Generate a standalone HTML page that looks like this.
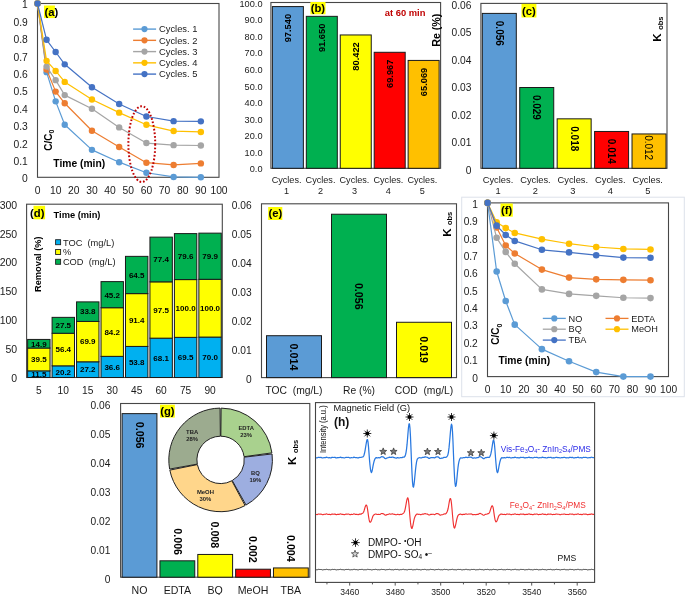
<!DOCTYPE html>
<html><head><meta charset="utf-8"><style>
html,body{margin:0;padding:0;background:#fff;}
svg{display:block;font-family:"Liberation Sans", sans-serif;}
</style></head><body>
<div style="will-change:transform;width:685px;height:595px;overflow:hidden"><svg width="685" height="595" viewBox="0 0 685 595">
<rect x="0" y="0" width="685" height="595" fill="#fff"/>
<rect x="37.50" y="3.50" width="181.50" height="173.80" fill="#fff" stroke="#474747" stroke-width="1.1"/>
<text x="27.80" y="182.26" font-size="10.3" text-anchor="end" fill="#1a1a1a">0</text>
<text x="27.80" y="164.88" font-size="10.3" text-anchor="end" fill="#1a1a1a">0.1</text>
<text x="27.80" y="147.50" font-size="10.3" text-anchor="end" fill="#1a1a1a">0.2</text>
<text x="27.80" y="130.12" font-size="10.3" text-anchor="end" fill="#1a1a1a">0.3</text>
<text x="27.80" y="112.74" font-size="10.3" text-anchor="end" fill="#1a1a1a">0.4</text>
<text x="27.80" y="95.36" font-size="10.3" text-anchor="end" fill="#1a1a1a">0.5</text>
<text x="27.80" y="77.98" font-size="10.3" text-anchor="end" fill="#1a1a1a">0.6</text>
<text x="27.80" y="60.60" font-size="10.3" text-anchor="end" fill="#1a1a1a">0.7</text>
<text x="27.80" y="43.22" font-size="10.3" text-anchor="end" fill="#1a1a1a">0.8</text>
<text x="27.80" y="25.84" font-size="10.3" text-anchor="end" fill="#1a1a1a">0.9</text>
<text x="27.80" y="8.46" font-size="10.3" text-anchor="end" fill="#1a1a1a">1</text>
<text x="37.50" y="193.66" font-size="10.3" text-anchor="middle" fill="#1a1a1a">0</text>
<text x="55.65" y="193.66" font-size="10.3" text-anchor="middle" fill="#1a1a1a">10</text>
<text x="73.80" y="193.66" font-size="10.3" text-anchor="middle" fill="#1a1a1a">20</text>
<text x="91.95" y="193.66" font-size="10.3" text-anchor="middle" fill="#1a1a1a">30</text>
<text x="110.10" y="193.66" font-size="10.3" text-anchor="middle" fill="#1a1a1a">40</text>
<text x="128.25" y="193.66" font-size="10.3" text-anchor="middle" fill="#1a1a1a">50</text>
<text x="146.40" y="193.66" font-size="10.3" text-anchor="middle" fill="#1a1a1a">60</text>
<text x="164.55" y="193.66" font-size="10.3" text-anchor="middle" fill="#1a1a1a">70</text>
<text x="182.70" y="193.66" font-size="10.3" text-anchor="middle" fill="#1a1a1a">80</text>
<text x="200.85" y="193.66" font-size="10.3" text-anchor="middle" fill="#1a1a1a">90</text>
<text x="219.00" y="193.66" font-size="10.3" text-anchor="middle" fill="#1a1a1a">100</text>
<polyline points="37.50,3.50 46.58,72.15 55.65,101.35 64.72,124.81 91.95,149.84 119.17,162.18 146.40,172.78 173.62,176.95 200.85,177.30" fill="none" stroke="#5B9BD5" stroke-width="1.2" stroke-linejoin="round"/>
<circle cx="37.50" cy="3.50" r="3.2" fill="#5B9BD5"/>
<circle cx="46.58" cy="72.15" r="3.2" fill="#5B9BD5"/>
<circle cx="55.65" cy="101.35" r="3.2" fill="#5B9BD5"/>
<circle cx="64.72" cy="124.81" r="3.2" fill="#5B9BD5"/>
<circle cx="91.95" cy="149.84" r="3.2" fill="#5B9BD5"/>
<circle cx="119.17" cy="162.18" r="3.2" fill="#5B9BD5"/>
<circle cx="146.40" cy="172.78" r="3.2" fill="#5B9BD5"/>
<circle cx="173.62" cy="176.95" r="3.2" fill="#5B9BD5"/>
<circle cx="200.85" cy="177.30" r="3.2" fill="#5B9BD5"/>
<polyline points="37.50,3.50 46.58,69.54 55.65,91.62 64.72,103.26 91.95,130.72 119.17,147.06 146.40,162.70 173.62,164.96 200.85,163.40" fill="none" stroke="#ED7D31" stroke-width="1.2" stroke-linejoin="round"/>
<circle cx="37.50" cy="3.50" r="3.2" fill="#ED7D31"/>
<circle cx="46.58" cy="69.54" r="3.2" fill="#ED7D31"/>
<circle cx="55.65" cy="91.62" r="3.2" fill="#ED7D31"/>
<circle cx="64.72" cy="103.26" r="3.2" fill="#ED7D31"/>
<circle cx="91.95" cy="130.72" r="3.2" fill="#ED7D31"/>
<circle cx="119.17" cy="147.06" r="3.2" fill="#ED7D31"/>
<circle cx="146.40" cy="162.70" r="3.2" fill="#ED7D31"/>
<circle cx="173.62" cy="164.96" r="3.2" fill="#ED7D31"/>
<circle cx="200.85" cy="163.40" r="3.2" fill="#ED7D31"/>
<polyline points="37.50,3.50 46.58,66.59 55.65,80.15 64.72,95.09 91.95,108.82 119.17,127.42 146.40,143.06 173.62,145.15 200.85,145.49" fill="none" stroke="#A5A5A5" stroke-width="1.2" stroke-linejoin="round"/>
<circle cx="37.50" cy="3.50" r="3.2" fill="#A5A5A5"/>
<circle cx="46.58" cy="66.59" r="3.2" fill="#A5A5A5"/>
<circle cx="55.65" cy="80.15" r="3.2" fill="#A5A5A5"/>
<circle cx="64.72" cy="95.09" r="3.2" fill="#A5A5A5"/>
<circle cx="91.95" cy="108.82" r="3.2" fill="#A5A5A5"/>
<circle cx="119.17" cy="127.42" r="3.2" fill="#A5A5A5"/>
<circle cx="146.40" cy="143.06" r="3.2" fill="#A5A5A5"/>
<circle cx="173.62" cy="145.15" r="3.2" fill="#A5A5A5"/>
<circle cx="200.85" cy="145.49" r="3.2" fill="#A5A5A5"/>
<polyline points="37.50,3.50 46.58,60.85 55.65,70.93 64.72,81.88 91.95,99.44 119.17,112.65 146.40,124.81 173.62,131.07 200.85,131.94" fill="none" stroke="#FFC000" stroke-width="1.2" stroke-linejoin="round"/>
<circle cx="37.50" cy="3.50" r="3.2" fill="#FFC000"/>
<circle cx="46.58" cy="60.85" r="3.2" fill="#FFC000"/>
<circle cx="55.65" cy="70.93" r="3.2" fill="#FFC000"/>
<circle cx="64.72" cy="81.88" r="3.2" fill="#FFC000"/>
<circle cx="91.95" cy="99.44" r="3.2" fill="#FFC000"/>
<circle cx="119.17" cy="112.65" r="3.2" fill="#FFC000"/>
<circle cx="146.40" cy="124.81" r="3.2" fill="#FFC000"/>
<circle cx="173.62" cy="131.07" r="3.2" fill="#FFC000"/>
<circle cx="200.85" cy="131.94" r="3.2" fill="#FFC000"/>
<polyline points="37.50,3.50 46.58,39.82 55.65,51.99 64.72,64.33 91.95,87.27 119.17,103.96 146.40,116.47 173.62,121.16 200.85,121.34" fill="none" stroke="#4472C4" stroke-width="1.2" stroke-linejoin="round"/>
<circle cx="37.50" cy="3.50" r="3.2" fill="#4472C4"/>
<circle cx="46.58" cy="39.82" r="3.2" fill="#4472C4"/>
<circle cx="55.65" cy="51.99" r="3.2" fill="#4472C4"/>
<circle cx="64.72" cy="64.33" r="3.2" fill="#4472C4"/>
<circle cx="91.95" cy="87.27" r="3.2" fill="#4472C4"/>
<circle cx="119.17" cy="103.96" r="3.2" fill="#4472C4"/>
<circle cx="146.40" cy="116.47" r="3.2" fill="#4472C4"/>
<circle cx="173.62" cy="121.16" r="3.2" fill="#4472C4"/>
<circle cx="200.85" cy="121.34" r="3.2" fill="#4472C4"/>
<line x1="133.10" y1="29.10" x2="156.10" y2="29.10" stroke="#5B9BD5" stroke-width="1.4"/>
<circle cx="144.5" cy="29.10" r="3.1" fill="#5B9BD5"/>
<text x="159.00" y="32.42" font-size="9.35" text-anchor="start" fill="#1a1a1a">Cycles. 1</text>
<line x1="133.10" y1="40.35" x2="156.10" y2="40.35" stroke="#ED7D31" stroke-width="1.4"/>
<circle cx="144.5" cy="40.35" r="3.1" fill="#ED7D31"/>
<text x="159.00" y="43.67" font-size="9.35" text-anchor="start" fill="#1a1a1a">Cycles. 2</text>
<line x1="133.10" y1="51.60" x2="156.10" y2="51.60" stroke="#A5A5A5" stroke-width="1.4"/>
<circle cx="144.5" cy="51.60" r="3.1" fill="#A5A5A5"/>
<text x="159.00" y="54.92" font-size="9.35" text-anchor="start" fill="#1a1a1a">Cycles. 3</text>
<line x1="133.10" y1="62.85" x2="156.10" y2="62.85" stroke="#FFC000" stroke-width="1.4"/>
<circle cx="144.5" cy="62.85" r="3.1" fill="#FFC000"/>
<text x="159.00" y="66.17" font-size="9.35" text-anchor="start" fill="#1a1a1a">Cycles. 4</text>
<line x1="133.10" y1="74.10" x2="156.10" y2="74.10" stroke="#4472C4" stroke-width="1.4"/>
<circle cx="144.5" cy="74.10" r="3.1" fill="#4472C4"/>
<text x="159.00" y="77.42" font-size="9.35" text-anchor="start" fill="#1a1a1a">Cycles. 5</text>
<rect x="44.00" y="5.50" width="10.90" height="12.60" fill="#FFFF00" stroke="none" stroke-width="1"/>
<text x="44.50" y="16.01" font-size="11.3" text-anchor="start" fill="#000" font-weight="bold">(a)</text>
<text transform="translate(48.4,140.2) rotate(-90)" x="0" y="3.5" font-size="10" font-weight="bold" text-anchor="middle" fill="#000">C/C<tspan font-size="7" dy="2.5">0</tspan></text>
<text x="53.30" y="166.76" font-size="10.3" text-anchor="start" fill="#000" font-weight="bold">Time (min)</text>
<ellipse cx="141.8" cy="144.1" rx="13.4" ry="37.9" fill="none" stroke="#C00000" stroke-width="2" stroke-dasharray="1.7 1.9"/>
<rect x="270.90" y="2.50" width="169.70" height="165.80" fill="#fff" stroke="#474747" stroke-width="1.1"/>
<text x="262.50" y="172.47" font-size="9.2" text-anchor="end" fill="#1a1a1a">0.0</text>
<text x="262.50" y="155.89" font-size="9.2" text-anchor="end" fill="#1a1a1a">10.0</text>
<text x="262.50" y="139.31" font-size="9.2" text-anchor="end" fill="#1a1a1a">20.0</text>
<text x="262.50" y="122.73" font-size="9.2" text-anchor="end" fill="#1a1a1a">30.0</text>
<text x="262.50" y="106.15" font-size="9.2" text-anchor="end" fill="#1a1a1a">40.0</text>
<text x="262.50" y="89.57" font-size="9.2" text-anchor="end" fill="#1a1a1a">50.0</text>
<text x="262.50" y="72.99" font-size="9.2" text-anchor="end" fill="#1a1a1a">60.0</text>
<text x="262.50" y="56.41" font-size="9.2" text-anchor="end" fill="#1a1a1a">70.0</text>
<text x="262.50" y="39.83" font-size="9.2" text-anchor="end" fill="#1a1a1a">80.0</text>
<text x="262.50" y="23.25" font-size="9.2" text-anchor="end" fill="#1a1a1a">90.0</text>
<text x="262.50" y="6.67" font-size="9.2" text-anchor="end" fill="#1a1a1a">100.0</text>
<rect x="272.37" y="6.58" width="31.00" height="161.72" fill="#5B9BD5" stroke="#1a1a1a" stroke-width="1"/>
<text transform="translate(288.07,13.88) rotate(-90)" x="0" y="3.30" font-size="9.3" font-weight="bold" text-anchor="end" fill="#000">97.540</text>
<text x="286.57" y="182.93" font-size="9.1" text-anchor="middle" fill="#1a1a1a">Cycles.</text>
<text x="286.57" y="194.03" font-size="9.1" text-anchor="middle" fill="#1a1a1a">1</text>
<rect x="306.31" y="16.34" width="31.00" height="151.96" fill="#00B050" stroke="#1a1a1a" stroke-width="1"/>
<text transform="translate(322.01,23.64) rotate(-90)" x="0" y="3.30" font-size="9.3" font-weight="bold" text-anchor="end" fill="#000">91.650</text>
<text x="320.51" y="182.93" font-size="9.1" text-anchor="middle" fill="#1a1a1a">Cycles.</text>
<text x="320.51" y="194.03" font-size="9.1" text-anchor="middle" fill="#1a1a1a">2</text>
<rect x="340.25" y="34.96" width="31.00" height="133.34" fill="#FFFF00" stroke="#1a1a1a" stroke-width="1"/>
<text transform="translate(355.95,42.26) rotate(-90)" x="0" y="3.30" font-size="9.3" font-weight="bold" text-anchor="end" fill="#000">80.422</text>
<text x="354.45" y="182.93" font-size="9.1" text-anchor="middle" fill="#1a1a1a">Cycles.</text>
<text x="354.45" y="194.03" font-size="9.1" text-anchor="middle" fill="#1a1a1a">3</text>
<rect x="374.19" y="52.29" width="31.00" height="116.01" fill="#FF0000" stroke="#1a1a1a" stroke-width="1"/>
<text transform="translate(389.89,59.59) rotate(-90)" x="0" y="3.30" font-size="9.3" font-weight="bold" text-anchor="end" fill="#000">69.967</text>
<text x="388.39" y="182.93" font-size="9.1" text-anchor="middle" fill="#1a1a1a">Cycles.</text>
<text x="388.39" y="194.03" font-size="9.1" text-anchor="middle" fill="#1a1a1a">4</text>
<rect x="408.13" y="60.42" width="31.00" height="107.88" fill="#FFC000" stroke="#1a1a1a" stroke-width="1"/>
<text transform="translate(423.83,67.72) rotate(-90)" x="0" y="3.30" font-size="9.3" font-weight="bold" text-anchor="end" fill="#000">65.069</text>
<text x="422.33" y="182.93" font-size="9.1" text-anchor="middle" fill="#1a1a1a">Cycles.</text>
<text x="422.33" y="194.03" font-size="9.1" text-anchor="middle" fill="#1a1a1a">5</text>
<rect x="310.40" y="2.00" width="15.10" height="12.30" fill="#FFFF00" stroke="none" stroke-width="1"/>
<text x="310.70" y="12.31" font-size="11.3" text-anchor="start" fill="#000" font-weight="bold">(b)</text>
<text x="384.80" y="16.44" font-size="9.4" text-anchor="start" fill="#C00000" font-weight="bold">at 60 min</text>
<text transform="translate(436.40,30.20) rotate(-90)" x="0" y="3.80" font-size="10.7" text-anchor="middle" fill="#000" font-weight="bold">Re (%)</text>
<rect x="480.90" y="3.40" width="186.10" height="164.90" fill="#fff" stroke="#474747" stroke-width="1.1"/>
<text x="471.40" y="173.72" font-size="10.2" text-anchor="end" fill="#1a1a1a">0</text>
<text x="471.40" y="146.24" font-size="10.2" text-anchor="end" fill="#1a1a1a">0.01</text>
<text x="471.40" y="118.75" font-size="10.2" text-anchor="end" fill="#1a1a1a">0.02</text>
<text x="471.40" y="91.27" font-size="10.2" text-anchor="end" fill="#1a1a1a">0.03</text>
<text x="471.40" y="63.79" font-size="10.2" text-anchor="end" fill="#1a1a1a">0.04</text>
<text x="471.40" y="36.30" font-size="10.2" text-anchor="end" fill="#1a1a1a">0.05</text>
<text x="471.40" y="8.82" font-size="10.2" text-anchor="end" fill="#1a1a1a">0.06</text>
<rect x="482.30" y="13.40" width="34.00" height="154.90" fill="#5B9BD5" stroke="#1a1a1a" stroke-width="1"/>
<text transform="translate(499.30,20.80) rotate(90)" x="0" y="3.55" font-size="10" font-weight="bold" text-anchor="start" fill="#000">0.056</text>
<text x="498.00" y="182.60" font-size="9.3" text-anchor="middle" fill="#1a1a1a">Cycles.</text>
<text x="498.00" y="193.80" font-size="9.3" text-anchor="middle" fill="#1a1a1a">1</text>
<rect x="519.73" y="87.50" width="34.00" height="80.80" fill="#00B050" stroke="#1a1a1a" stroke-width="1"/>
<text transform="translate(536.73,94.90) rotate(90)" x="0" y="3.55" font-size="10" font-weight="bold" text-anchor="start" fill="#000">0.029</text>
<text x="535.43" y="182.60" font-size="9.3" text-anchor="middle" fill="#1a1a1a">Cycles.</text>
<text x="535.43" y="193.80" font-size="9.3" text-anchor="middle" fill="#1a1a1a">2</text>
<rect x="557.16" y="118.83" width="34.00" height="49.47" fill="#FFFF00" stroke="#1a1a1a" stroke-width="1"/>
<text transform="translate(574.16,126.23) rotate(90)" x="0" y="3.55" font-size="10" font-weight="bold" text-anchor="start" fill="#000">0.018</text>
<text x="572.86" y="182.60" font-size="9.3" text-anchor="middle" fill="#1a1a1a">Cycles.</text>
<text x="572.86" y="193.80" font-size="9.3" text-anchor="middle" fill="#1a1a1a">3</text>
<rect x="594.59" y="131.47" width="34.00" height="36.83" fill="#FF0000" stroke="#1a1a1a" stroke-width="1"/>
<text transform="translate(611.59,138.87) rotate(90)" x="0" y="3.55" font-size="10" font-weight="bold" text-anchor="start" fill="#000">0.014</text>
<text x="610.29" y="182.60" font-size="9.3" text-anchor="middle" fill="#1a1a1a">Cycles.</text>
<text x="610.29" y="193.80" font-size="9.3" text-anchor="middle" fill="#1a1a1a">4</text>
<rect x="632.02" y="133.95" width="34.00" height="34.35" fill="#FFC000" stroke="#1a1a1a" stroke-width="1"/>
<text transform="translate(649.02,135.15) rotate(90)" x="0" y="3.55" font-size="10" text-anchor="start" fill="#000">0.012</text>
<text x="647.72" y="182.60" font-size="9.3" text-anchor="middle" fill="#1a1a1a">Cycles.</text>
<text x="647.72" y="193.80" font-size="9.3" text-anchor="middle" fill="#1a1a1a">5</text>
<rect x="521.50" y="3.90" width="14.90" height="13.60" fill="#FFFF00" stroke="none" stroke-width="1"/>
<text x="522.00" y="14.51" font-size="11.3" text-anchor="start" fill="#000" font-weight="bold">(c)</text>
<text transform="translate(657.30,37.70) rotate(-90)" x="0" y="4.08" font-size="11.5" font-weight="bold" text-anchor="middle" fill="#000">K</text>
<text transform="translate(660.90,23.20) rotate(-90)" x="0" y="2.10" font-size="7.5" font-weight="bold" text-anchor="middle" fill="#000">obs</text>
<rect x="26.60" y="204.20" width="195.70" height="173.30" fill="#fff" stroke="#474747" stroke-width="1.1"/>
<text x="17.20" y="382.03" font-size="10.5" text-anchor="end" fill="#1a1a1a">0</text>
<text x="17.20" y="353.14" font-size="10.5" text-anchor="end" fill="#1a1a1a">50</text>
<text x="17.20" y="324.26" font-size="10.5" text-anchor="end" fill="#1a1a1a">100</text>
<text x="17.20" y="295.38" font-size="10.5" text-anchor="end" fill="#1a1a1a">150</text>
<text x="17.20" y="266.49" font-size="10.5" text-anchor="end" fill="#1a1a1a">200</text>
<text x="17.20" y="237.61" font-size="10.5" text-anchor="end" fill="#1a1a1a">250</text>
<text x="17.20" y="208.73" font-size="10.5" text-anchor="end" fill="#1a1a1a">300</text>
<rect x="27.63" y="370.86" width="22.40" height="6.64" fill="#00B0F0" stroke="#1a1a1a" stroke-width="1"/>
<rect x="27.63" y="348.04" width="22.40" height="22.82" fill="#FFFF00" stroke="#1a1a1a" stroke-width="1"/>
<rect x="27.63" y="339.43" width="22.40" height="8.61" fill="#00B050" stroke="#1a1a1a" stroke-width="1"/>
<text x="38.83" y="377.02" font-size="8.0" text-anchor="middle" fill="#000" font-weight="bold">11.5</text>
<text x="38.83" y="362.29" font-size="8.0" text-anchor="middle" fill="#000" font-weight="bold">39.5</text>
<text x="38.83" y="346.58" font-size="8.0" text-anchor="middle" fill="#000" font-weight="bold">14.9</text>
<text x="38.83" y="393.82" font-size="10.2" text-anchor="middle" fill="#1a1a1a">5</text>
<rect x="52.09" y="365.83" width="22.40" height="11.67" fill="#00B0F0" stroke="#1a1a1a" stroke-width="1"/>
<rect x="52.09" y="333.25" width="22.40" height="32.58" fill="#FFFF00" stroke="#1a1a1a" stroke-width="1"/>
<rect x="52.09" y="317.36" width="22.40" height="15.89" fill="#00B050" stroke="#1a1a1a" stroke-width="1"/>
<text x="63.29" y="374.51" font-size="8.0" text-anchor="middle" fill="#000" font-weight="bold">20.2</text>
<text x="63.29" y="352.38" font-size="8.0" text-anchor="middle" fill="#000" font-weight="bold">56.4</text>
<text x="63.29" y="328.15" font-size="8.0" text-anchor="middle" fill="#000" font-weight="bold">27.5</text>
<text x="63.29" y="393.82" font-size="10.2" text-anchor="middle" fill="#1a1a1a">10</text>
<rect x="76.56" y="361.79" width="22.40" height="15.71" fill="#00B0F0" stroke="#1a1a1a" stroke-width="1"/>
<rect x="76.56" y="321.41" width="22.40" height="40.38" fill="#FFFF00" stroke="#1a1a1a" stroke-width="1"/>
<rect x="76.56" y="301.88" width="22.40" height="19.53" fill="#00B050" stroke="#1a1a1a" stroke-width="1"/>
<text x="87.76" y="372.48" font-size="8.0" text-anchor="middle" fill="#000" font-weight="bold">27.2</text>
<text x="87.76" y="344.44" font-size="8.0" text-anchor="middle" fill="#000" font-weight="bold">69.9</text>
<text x="87.76" y="314.49" font-size="8.0" text-anchor="middle" fill="#000" font-weight="bold">33.8</text>
<text x="87.76" y="393.82" font-size="10.2" text-anchor="middle" fill="#1a1a1a">15</text>
<rect x="101.02" y="356.36" width="22.40" height="21.14" fill="#00B0F0" stroke="#1a1a1a" stroke-width="1"/>
<rect x="101.02" y="307.72" width="22.40" height="48.64" fill="#FFFF00" stroke="#1a1a1a" stroke-width="1"/>
<rect x="101.02" y="281.61" width="22.40" height="26.11" fill="#00B050" stroke="#1a1a1a" stroke-width="1"/>
<text x="112.22" y="369.77" font-size="8.0" text-anchor="middle" fill="#000" font-weight="bold">36.6</text>
<text x="112.22" y="334.88" font-size="8.0" text-anchor="middle" fill="#000" font-weight="bold">84.2</text>
<text x="112.22" y="297.50" font-size="8.0" text-anchor="middle" fill="#000" font-weight="bold">45.2</text>
<text x="112.22" y="393.82" font-size="10.2" text-anchor="middle" fill="#1a1a1a">30</text>
<rect x="125.48" y="346.42" width="22.40" height="31.08" fill="#00B0F0" stroke="#1a1a1a" stroke-width="1"/>
<rect x="125.48" y="293.62" width="22.40" height="52.80" fill="#FFFF00" stroke="#1a1a1a" stroke-width="1"/>
<rect x="125.48" y="256.36" width="22.40" height="37.26" fill="#00B050" stroke="#1a1a1a" stroke-width="1"/>
<text x="136.68" y="364.80" font-size="8.0" text-anchor="middle" fill="#000" font-weight="bold">53.8</text>
<text x="136.68" y="322.86" font-size="8.0" text-anchor="middle" fill="#000" font-weight="bold">91.4</text>
<text x="136.68" y="277.83" font-size="8.0" text-anchor="middle" fill="#000" font-weight="bold">64.5</text>
<text x="136.68" y="393.82" font-size="10.2" text-anchor="middle" fill="#1a1a1a">45</text>
<rect x="149.94" y="338.16" width="22.40" height="39.34" fill="#00B0F0" stroke="#1a1a1a" stroke-width="1"/>
<rect x="149.94" y="281.84" width="22.40" height="56.32" fill="#FFFF00" stroke="#1a1a1a" stroke-width="1"/>
<rect x="149.94" y="237.13" width="22.40" height="44.71" fill="#00B050" stroke="#1a1a1a" stroke-width="1"/>
<text x="161.14" y="360.67" font-size="8.0" text-anchor="middle" fill="#000" font-weight="bold">68.1</text>
<text x="161.14" y="312.84" font-size="8.0" text-anchor="middle" fill="#000" font-weight="bold">97.5</text>
<text x="161.14" y="262.32" font-size="8.0" text-anchor="middle" fill="#000" font-weight="bold">77.4</text>
<text x="161.14" y="393.82" font-size="10.2" text-anchor="middle" fill="#1a1a1a">60</text>
<rect x="174.41" y="337.35" width="22.40" height="40.15" fill="#00B0F0" stroke="#1a1a1a" stroke-width="1"/>
<rect x="174.41" y="279.59" width="22.40" height="57.77" fill="#FFFF00" stroke="#1a1a1a" stroke-width="1"/>
<rect x="174.41" y="233.60" width="22.40" height="45.98" fill="#00B050" stroke="#1a1a1a" stroke-width="1"/>
<text x="185.61" y="360.27" font-size="8.0" text-anchor="middle" fill="#000" font-weight="bold">69.5</text>
<text x="185.61" y="311.31" font-size="8.0" text-anchor="middle" fill="#000" font-weight="bold">100.0</text>
<text x="185.61" y="259.43" font-size="8.0" text-anchor="middle" fill="#000" font-weight="bold">79.6</text>
<text x="185.61" y="393.82" font-size="10.2" text-anchor="middle" fill="#1a1a1a">75</text>
<rect x="198.87" y="337.06" width="22.40" height="40.44" fill="#00B0F0" stroke="#1a1a1a" stroke-width="1"/>
<rect x="198.87" y="279.30" width="22.40" height="57.77" fill="#FFFF00" stroke="#1a1a1a" stroke-width="1"/>
<rect x="198.87" y="233.14" width="22.40" height="46.16" fill="#00B050" stroke="#1a1a1a" stroke-width="1"/>
<text x="210.07" y="360.12" font-size="8.0" text-anchor="middle" fill="#000" font-weight="bold">70.0</text>
<text x="210.07" y="311.02" font-size="8.0" text-anchor="middle" fill="#000" font-weight="bold">100.0</text>
<text x="210.07" y="259.06" font-size="8.0" text-anchor="middle" fill="#000" font-weight="bold">79.9</text>
<text x="210.07" y="393.82" font-size="10.2" text-anchor="middle" fill="#1a1a1a">90</text>
<rect x="55.60" y="239.70" width="5.00" height="5.00" fill="#00B0F0" stroke="#222" stroke-width="0.9"/>
<text x="62.90" y="245.50" font-size="9.3" text-anchor="start" fill="#1a1a1a">TOC&#160;&#160;(mg/L)</text>
<rect x="55.60" y="249.50" width="5.00" height="5.00" fill="#FFFF00" stroke="#222" stroke-width="0.9"/>
<text x="62.90" y="255.30" font-size="9.3" text-anchor="start" fill="#1a1a1a">%</text>
<rect x="55.60" y="259.30" width="5.00" height="5.00" fill="#00B050" stroke="#222" stroke-width="0.9"/>
<text x="62.90" y="265.10" font-size="9.3" text-anchor="start" fill="#1a1a1a">COD&#160;&#160;(mg/L)</text>
<rect x="33.50" y="205.80" width="11.60" height="13.50" fill="#FFFF00" stroke="none" stroke-width="1"/>
<text x="30.00" y="217.31" font-size="11.3" text-anchor="start" fill="#000" font-weight="bold">(d)</text>
<text x="53.60" y="217.70" font-size="9.3" text-anchor="start" fill="#000" font-weight="bold">Time (min)</text>
<text transform="translate(37.70,264.20) rotate(-90)" x="0" y="3.28" font-size="9.25" text-anchor="middle" fill="#000" font-weight="bold">Removal (%)</text>
<rect x="261.50" y="203.80" width="195.00" height="173.80" fill="#fff" stroke="#474747" stroke-width="1.1"/>
<text x="251.70" y="383.02" font-size="10.2" text-anchor="end" fill="#1a1a1a">0</text>
<text x="251.70" y="354.05" font-size="10.2" text-anchor="end" fill="#1a1a1a">0.01</text>
<text x="251.70" y="325.09" font-size="10.2" text-anchor="end" fill="#1a1a1a">0.02</text>
<text x="251.70" y="296.12" font-size="10.2" text-anchor="end" fill="#1a1a1a">0.03</text>
<text x="251.70" y="267.15" font-size="10.2" text-anchor="end" fill="#1a1a1a">0.04</text>
<text x="251.70" y="238.19" font-size="10.2" text-anchor="end" fill="#1a1a1a">0.05</text>
<text x="251.70" y="209.22" font-size="10.2" text-anchor="end" fill="#1a1a1a">0.06</text>
<rect x="266.50" y="335.71" width="55.00" height="41.89" fill="#5B9BD5" stroke="#1a1a1a" stroke-width="1"/>
<rect x="331.50" y="214.23" width="55.00" height="163.37" fill="#00B050" stroke="#1a1a1a" stroke-width="1"/>
<rect x="396.50" y="322.27" width="55.00" height="55.33" fill="#FFFF00" stroke="#1a1a1a" stroke-width="1"/>
<text x="294.00" y="393.96" font-size="10.3" text-anchor="middle" fill="#1a1a1a">TOC&#160;&#160;(mg/L)</text>
<text x="359.00" y="393.96" font-size="10.3" text-anchor="middle" fill="#1a1a1a">Re (%)</text>
<text x="424.00" y="393.96" font-size="10.3" text-anchor="middle" fill="#1a1a1a">COD&#160;&#160;(mg/L)</text>
<text transform="translate(294.00,343.60) rotate(90)" x="0" y="3.80" font-size="10.7" font-weight="bold" text-anchor="start" fill="#000">0.014</text>
<text transform="translate(359.00,282.90) rotate(90)" x="0" y="3.80" font-size="10.7" font-weight="bold" text-anchor="start" fill="#000">0.056</text>
<text transform="translate(424.00,336.30) rotate(90)" x="0" y="3.80" font-size="10.7" font-weight="bold" text-anchor="start" fill="#000">0.019</text>
<rect x="268.20" y="207.00" width="14.10" height="13.00" fill="#FFFF00" stroke="none" stroke-width="1"/>
<text x="268.40" y="217.41" font-size="11.3" text-anchor="start" fill="#000" font-weight="bold">(e)</text>
<text transform="translate(446.80,232.50) rotate(-90)" x="0" y="4.08" font-size="11.5" font-weight="bold" text-anchor="middle" fill="#000">K</text>
<text transform="translate(449.40,218.40) rotate(-90)" x="0" y="2.10" font-size="7.5" font-weight="bold" text-anchor="middle" fill="#000">obs</text>
<rect x="461.70" y="197.20" width="222.60" height="199.50" fill="#fff" stroke="#DDE1EA" stroke-width="1"/>
<rect x="487.50" y="202.90" width="181.00" height="173.70" fill="#fff" stroke="#474747" stroke-width="1.1"/>
<text x="477.80" y="381.52" font-size="10.2" text-anchor="end" fill="#1a1a1a">0</text>
<text x="477.80" y="364.15" font-size="10.2" text-anchor="end" fill="#1a1a1a">0.1</text>
<text x="477.80" y="346.78" font-size="10.2" text-anchor="end" fill="#1a1a1a">0.2</text>
<text x="477.80" y="329.41" font-size="10.2" text-anchor="end" fill="#1a1a1a">0.3</text>
<text x="477.80" y="312.04" font-size="10.2" text-anchor="end" fill="#1a1a1a">0.4</text>
<text x="477.80" y="294.67" font-size="10.2" text-anchor="end" fill="#1a1a1a">0.5</text>
<text x="477.80" y="277.30" font-size="10.2" text-anchor="end" fill="#1a1a1a">0.6</text>
<text x="477.80" y="259.93" font-size="10.2" text-anchor="end" fill="#1a1a1a">0.7</text>
<text x="477.80" y="242.56" font-size="10.2" text-anchor="end" fill="#1a1a1a">0.8</text>
<text x="477.80" y="225.19" font-size="10.2" text-anchor="end" fill="#1a1a1a">0.9</text>
<text x="477.80" y="207.82" font-size="10.2" text-anchor="end" fill="#1a1a1a">1</text>
<text x="487.60" y="393.42" font-size="10.2" text-anchor="middle" fill="#1a1a1a">0</text>
<text x="505.70" y="393.42" font-size="10.2" text-anchor="middle" fill="#1a1a1a">10</text>
<text x="523.80" y="393.42" font-size="10.2" text-anchor="middle" fill="#1a1a1a">20</text>
<text x="541.90" y="393.42" font-size="10.2" text-anchor="middle" fill="#1a1a1a">30</text>
<text x="560.00" y="393.42" font-size="10.2" text-anchor="middle" fill="#1a1a1a">40</text>
<text x="578.10" y="393.42" font-size="10.2" text-anchor="middle" fill="#1a1a1a">50</text>
<text x="596.20" y="393.42" font-size="10.2" text-anchor="middle" fill="#1a1a1a">60</text>
<text x="614.30" y="393.42" font-size="10.2" text-anchor="middle" fill="#1a1a1a">70</text>
<text x="632.40" y="393.42" font-size="10.2" text-anchor="middle" fill="#1a1a1a">80</text>
<text x="650.50" y="393.42" font-size="10.2" text-anchor="middle" fill="#1a1a1a">90</text>
<text x="668.60" y="393.42" font-size="10.2" text-anchor="middle" fill="#1a1a1a">100</text>
<polyline points="487.60,202.90 496.65,271.51 505.70,301.04 514.75,324.66 541.90,349.16 569.05,361.31 596.20,372.08 623.35,376.60 650.50,376.60" fill="none" stroke="#5B9BD5" stroke-width="1.2" stroke-linejoin="round"/>
<circle cx="487.60" cy="202.90" r="3.3" fill="#5B9BD5"/>
<circle cx="496.65" cy="271.51" r="3.3" fill="#5B9BD5"/>
<circle cx="505.70" cy="301.04" r="3.3" fill="#5B9BD5"/>
<circle cx="514.75" cy="324.66" r="3.3" fill="#5B9BD5"/>
<circle cx="541.90" cy="349.16" r="3.3" fill="#5B9BD5"/>
<circle cx="569.05" cy="361.31" r="3.3" fill="#5B9BD5"/>
<circle cx="596.20" cy="372.08" r="3.3" fill="#5B9BD5"/>
<circle cx="623.35" cy="376.60" r="3.3" fill="#5B9BD5"/>
<circle cx="650.50" cy="376.60" r="3.3" fill="#5B9BD5"/>
<polyline points="487.60,202.90 496.65,227.57 505.70,245.46 514.75,253.45 541.90,269.60 569.05,277.59 596.20,279.33 623.35,279.85 650.50,280.20" fill="none" stroke="#ED7D31" stroke-width="1.2" stroke-linejoin="round"/>
<circle cx="487.60" cy="202.90" r="3.3" fill="#ED7D31"/>
<circle cx="496.65" cy="227.57" r="3.3" fill="#ED7D31"/>
<circle cx="505.70" cy="245.46" r="3.3" fill="#ED7D31"/>
<circle cx="514.75" cy="253.45" r="3.3" fill="#ED7D31"/>
<circle cx="541.90" cy="269.60" r="3.3" fill="#ED7D31"/>
<circle cx="569.05" cy="277.59" r="3.3" fill="#ED7D31"/>
<circle cx="596.20" cy="279.33" r="3.3" fill="#ED7D31"/>
<circle cx="623.35" cy="279.85" r="3.3" fill="#ED7D31"/>
<circle cx="650.50" cy="280.20" r="3.3" fill="#ED7D31"/>
<polyline points="487.60,202.90 496.65,237.81 505.70,251.88 514.75,263.70 541.90,289.40 569.05,293.92 596.20,295.83 623.35,297.74 650.50,298.09" fill="none" stroke="#A5A5A5" stroke-width="1.2" stroke-linejoin="round"/>
<circle cx="487.60" cy="202.90" r="3.3" fill="#A5A5A5"/>
<circle cx="496.65" cy="237.81" r="3.3" fill="#A5A5A5"/>
<circle cx="505.70" cy="251.88" r="3.3" fill="#A5A5A5"/>
<circle cx="514.75" cy="263.70" r="3.3" fill="#A5A5A5"/>
<circle cx="541.90" cy="289.40" r="3.3" fill="#A5A5A5"/>
<circle cx="569.05" cy="293.92" r="3.3" fill="#A5A5A5"/>
<circle cx="596.20" cy="295.83" r="3.3" fill="#A5A5A5"/>
<circle cx="623.35" cy="297.74" r="3.3" fill="#A5A5A5"/>
<circle cx="650.50" cy="298.09" r="3.3" fill="#A5A5A5"/>
<polyline points="487.60,202.90 496.65,222.18 505.70,228.09 514.75,232.95 541.90,239.20 569.05,243.72 596.20,247.02 623.35,248.93 650.50,249.45" fill="none" stroke="#FFC000" stroke-width="1.2" stroke-linejoin="round"/>
<circle cx="487.60" cy="202.90" r="3.3" fill="#FFC000"/>
<circle cx="496.65" cy="222.18" r="3.3" fill="#FFC000"/>
<circle cx="505.70" cy="228.09" r="3.3" fill="#FFC000"/>
<circle cx="514.75" cy="232.95" r="3.3" fill="#FFC000"/>
<circle cx="541.90" cy="239.20" r="3.3" fill="#FFC000"/>
<circle cx="569.05" cy="243.72" r="3.3" fill="#FFC000"/>
<circle cx="596.20" cy="247.02" r="3.3" fill="#FFC000"/>
<circle cx="623.35" cy="248.93" r="3.3" fill="#FFC000"/>
<circle cx="650.50" cy="249.45" r="3.3" fill="#FFC000"/>
<polyline points="487.60,202.90 496.65,225.65 505.70,235.03 514.75,240.94 541.90,249.80 569.05,252.40 596.20,255.18 623.35,257.62 650.50,257.79" fill="none" stroke="#4472C4" stroke-width="1.2" stroke-linejoin="round"/>
<circle cx="487.60" cy="202.90" r="3.3" fill="#4472C4"/>
<circle cx="496.65" cy="225.65" r="3.3" fill="#4472C4"/>
<circle cx="505.70" cy="235.03" r="3.3" fill="#4472C4"/>
<circle cx="514.75" cy="240.94" r="3.3" fill="#4472C4"/>
<circle cx="541.90" cy="249.80" r="3.3" fill="#4472C4"/>
<circle cx="569.05" cy="252.40" r="3.3" fill="#4472C4"/>
<circle cx="596.20" cy="255.18" r="3.3" fill="#4472C4"/>
<circle cx="623.35" cy="257.62" r="3.3" fill="#4472C4"/>
<circle cx="650.50" cy="257.79" r="3.3" fill="#4472C4"/>
<line x1="542.80" y1="318.40" x2="565.80" y2="318.40" stroke="#5B9BD5" stroke-width="1.3"/>
<circle cx="554.30" cy="318.40" r="3.1" fill="#5B9BD5"/>
<text x="568.60" y="321.67" font-size="9.2" text-anchor="start" fill="#1a1a1a">NO</text>
<line x1="605.50" y1="318.40" x2="628.50" y2="318.40" stroke="#ED7D31" stroke-width="1.3"/>
<circle cx="617.00" cy="318.40" r="3.1" fill="#ED7D31"/>
<text x="631.30" y="321.67" font-size="9.2" text-anchor="start" fill="#1a1a1a">EDTA</text>
<line x1="542.80" y1="329.20" x2="565.80" y2="329.20" stroke="#A5A5A5" stroke-width="1.3"/>
<circle cx="554.30" cy="329.20" r="3.1" fill="#A5A5A5"/>
<text x="568.60" y="332.47" font-size="9.2" text-anchor="start" fill="#1a1a1a">BQ</text>
<line x1="605.50" y1="329.20" x2="628.50" y2="329.20" stroke="#FFC000" stroke-width="1.3"/>
<circle cx="617.00" cy="329.20" r="3.1" fill="#FFC000"/>
<text x="631.30" y="332.47" font-size="9.2" text-anchor="start" fill="#1a1a1a">MeOH</text>
<line x1="542.80" y1="340.10" x2="565.80" y2="340.10" stroke="#4472C4" stroke-width="1.3"/>
<circle cx="554.30" cy="340.10" r="3.1" fill="#4472C4"/>
<text x="568.60" y="343.37" font-size="9.2" text-anchor="start" fill="#1a1a1a">TBA</text>
<rect x="500.50" y="203.50" width="12.30" height="13.20" fill="#FFFF00" stroke="none" stroke-width="1"/>
<text x="500.90" y="214.41" font-size="11.3" text-anchor="start" fill="#000" font-weight="bold">(f)</text>
<text transform="translate(495.7,334.2) rotate(-90)" x="0" y="3.5" font-size="10" font-weight="bold" text-anchor="middle" fill="#000">C/C<tspan font-size="7" dy="2.5">0</tspan></text>
<text x="498.40" y="363.56" font-size="10.3" text-anchor="start" fill="#000" font-weight="bold">Time (min)</text>
<rect x="120.60" y="403.50" width="189.20" height="173.70" fill="#fff" stroke="#474747" stroke-width="1.1"/>
<text x="110.40" y="582.62" font-size="10.2" text-anchor="end" fill="#1a1a1a">0</text>
<text x="110.40" y="553.67" font-size="10.2" text-anchor="end" fill="#1a1a1a">0.01</text>
<text x="110.40" y="524.72" font-size="10.2" text-anchor="end" fill="#1a1a1a">0.02</text>
<text x="110.40" y="495.77" font-size="10.2" text-anchor="end" fill="#1a1a1a">0.03</text>
<text x="110.40" y="466.82" font-size="10.2" text-anchor="end" fill="#1a1a1a">0.04</text>
<text x="110.40" y="437.87" font-size="10.2" text-anchor="end" fill="#1a1a1a">0.05</text>
<text x="110.40" y="408.92" font-size="10.2" text-anchor="end" fill="#1a1a1a">0.06</text>
<rect x="122.12" y="413.63" width="34.80" height="163.57" fill="#5B9BD5" stroke="#1a1a1a" stroke-width="1"/>
<rect x="159.96" y="560.81" width="34.80" height="16.39" fill="#00B050" stroke="#1a1a1a" stroke-width="1"/>
<rect x="197.80" y="554.45" width="34.80" height="22.75" fill="#FFFF00" stroke="#1a1a1a" stroke-width="1"/>
<rect x="235.64" y="569.21" width="34.80" height="7.99" fill="#FF0000" stroke="#1a1a1a" stroke-width="1"/>
<rect x="273.48" y="567.94" width="34.80" height="9.26" fill="#FFC000" stroke="#1a1a1a" stroke-width="1"/>
<text x="139.52" y="593.86" font-size="10.6" text-anchor="middle" fill="#1a1a1a">NO</text>
<text x="177.36" y="593.86" font-size="10.6" text-anchor="middle" fill="#1a1a1a">EDTA</text>
<text x="215.20" y="593.86" font-size="10.6" text-anchor="middle" fill="#1a1a1a">BQ</text>
<text x="253.04" y="593.86" font-size="10.6" text-anchor="middle" fill="#1a1a1a">MeOH</text>
<text x="290.88" y="593.86" font-size="10.6" text-anchor="middle" fill="#1a1a1a">TBA</text>
<text transform="translate(139.52,421.80) rotate(90)" x="0" y="3.80" font-size="10.7" font-weight="bold" text-anchor="start" fill="#000">0.056</text>
<text transform="translate(177.36,528.30) rotate(90)" x="0" y="3.80" font-size="10.7" font-weight="bold" text-anchor="start" fill="#000">0.006</text>
<text transform="translate(215.20,521.50) rotate(90)" x="0" y="3.80" font-size="10.7" font-weight="bold" text-anchor="start" fill="#000">0.008</text>
<text transform="translate(253.04,536.00) rotate(90)" x="0" y="3.80" font-size="10.7" font-weight="bold" text-anchor="start" fill="#000">0.002</text>
<text transform="translate(290.88,535.00) rotate(90)" x="0" y="3.80" font-size="10.7" font-weight="bold" text-anchor="start" fill="#000">0.004</text>
<rect x="160.00" y="404.70" width="14.80" height="12.90" fill="#FFFF00" stroke="none" stroke-width="1"/>
<text x="160.20" y="415.01" font-size="11.3" text-anchor="start" fill="#000" font-weight="bold">(g)</text>
<text transform="translate(292.00,460.90) rotate(-90)" x="0" y="4.08" font-size="11.5" font-weight="bold" text-anchor="middle" fill="#000">K</text>
<text transform="translate(296.00,446.40) rotate(-90)" x="0" y="2.10" font-size="7.5" font-weight="bold" text-anchor="middle" fill="#000">obs</text>
<path d="M221.14,408.10 A51.8,51.8 0 0 1 271.92,452.87 L244.08,456.68 A23.7,23.7 0 0 0 220.85,436.20 Z" fill="#A9D18E" stroke="#222" stroke-width="1"/>
<path d="M272.06,453.95 A51.8,51.8 0 0 1 246.03,505.03 L232.23,480.55 A23.7,23.7 0 0 0 244.14,457.18 Z" fill="#9DAEE0" stroke="#222" stroke-width="1"/>
<path d="M245.08,505.55 A51.8,51.8 0 0 1 169.82,470.14 L197.37,464.58 A23.7,23.7 0 0 0 231.80,480.79 Z" fill="#FFD68B" stroke="#222" stroke-width="1"/>
<path d="M169.62,469.07 A51.8,51.8 0 0 1 220.06,408.10 L220.35,436.20 A23.7,23.7 0 0 0 197.27,464.10 Z" fill="#9CAB8F" stroke="#222" stroke-width="1"/>
<text x="246.20" y="430.39" font-size="5.9" text-anchor="middle" fill="#222" font-weight="bold">EDTA</text>
<text x="246.20" y="437.39" font-size="5.9" text-anchor="middle" fill="#222" font-weight="bold">23%</text>
<text x="255.30" y="474.79" font-size="5.9" text-anchor="middle" fill="#222" font-weight="bold">BQ</text>
<text x="255.30" y="481.79" font-size="5.9" text-anchor="middle" fill="#222" font-weight="bold">19%</text>
<text x="205.40" y="493.89" font-size="5.9" text-anchor="middle" fill="#222" font-weight="bold">MeOH</text>
<text x="205.40" y="500.89" font-size="5.9" text-anchor="middle" fill="#222" font-weight="bold">30%</text>
<text x="192.10" y="434.19" font-size="5.9" text-anchor="middle" fill="#222" font-weight="bold">TBA</text>
<text x="192.10" y="441.19" font-size="5.9" text-anchor="middle" fill="#222" font-weight="bold">28%</text>
<rect x="315.50" y="402.60" width="279.10" height="179.80" fill="#fff" stroke="#444" stroke-width="1.1"/>
<line x1="326.95" y1="582.40" x2="326.95" y2="584.40" stroke="#444" stroke-width="0.9"/>
<line x1="349.70" y1="582.40" x2="349.70" y2="585.60" stroke="#444" stroke-width="0.9"/>
<text x="349.70" y="595.05" font-size="8.6" text-anchor="middle" fill="#222">3460</text>
<line x1="372.45" y1="582.40" x2="372.45" y2="584.40" stroke="#444" stroke-width="0.9"/>
<line x1="395.20" y1="582.40" x2="395.20" y2="585.60" stroke="#444" stroke-width="0.9"/>
<text x="395.20" y="595.05" font-size="8.6" text-anchor="middle" fill="#222">3480</text>
<line x1="417.95" y1="582.40" x2="417.95" y2="584.40" stroke="#444" stroke-width="0.9"/>
<line x1="440.70" y1="582.40" x2="440.70" y2="585.60" stroke="#444" stroke-width="0.9"/>
<text x="440.70" y="595.05" font-size="8.6" text-anchor="middle" fill="#222">3500</text>
<line x1="463.45" y1="582.40" x2="463.45" y2="584.40" stroke="#444" stroke-width="0.9"/>
<line x1="486.20" y1="582.40" x2="486.20" y2="585.60" stroke="#444" stroke-width="0.9"/>
<text x="486.20" y="595.05" font-size="8.6" text-anchor="middle" fill="#222">3520</text>
<line x1="508.95" y1="582.40" x2="508.95" y2="584.40" stroke="#444" stroke-width="0.9"/>
<line x1="531.70" y1="582.40" x2="531.70" y2="585.60" stroke="#444" stroke-width="0.9"/>
<text x="531.70" y="595.05" font-size="8.6" text-anchor="middle" fill="#222">3540</text>
<line x1="554.45" y1="582.40" x2="554.45" y2="584.40" stroke="#444" stroke-width="0.9"/>
<line x1="577.20" y1="582.40" x2="577.20" y2="585.60" stroke="#444" stroke-width="0.9"/>
<text x="577.20" y="595.05" font-size="8.6" text-anchor="middle" fill="#222">3560</text>
<polyline points="316.00,457.72 316.50,457.83 317.00,457.88 317.50,457.73 318.00,457.46 318.50,457.28 319.00,457.30 319.50,457.45 320.00,457.53 320.50,457.48 321.00,457.44 321.50,457.56 322.00,457.80 322.50,457.98 323.00,457.94 323.50,457.74 324.00,457.58 324.50,457.58 325.00,457.63 325.50,457.56 326.00,457.37 326.50,457.22 327.00,457.27 327.50,457.51 328.00,457.72 328.50,457.76 329.00,457.70 329.50,457.69 330.00,457.81 330.50,457.93 331.00,457.87 331.50,457.62 332.00,457.38 332.50,457.31 333.00,457.41 333.50,457.50 334.00,457.46 334.50,457.38 335.00,457.43 335.50,457.66 336.00,457.90 336.50,457.97 337.00,457.83 337.50,457.66 338.00,457.63 338.50,457.68 339.00,457.66 339.50,457.48 340.00,457.26 340.50,457.21 341.00,457.38 341.50,457.60 342.00,457.70 342.50,457.66 343.00,457.64 343.50,457.75 344.00,457.92 344.50,457.96 345.00,457.77 345.50,457.51 346.00,457.37 346.50,457.41 347.00,457.50 347.50,457.47 348.00,457.35 348.50,457.33 349.00,457.51 349.50,457.78 350.00,457.93 350.50,457.88 351.00,457.73 351.50,457.67 352.00,457.73 352.50,457.75 353.00,457.61 353.50,457.36 354.00,457.21 354.50,457.29 355.00,457.49 355.50,457.63 356.00,457.61 356.50,457.57 357.00,457.66 357.50,457.86 358.00,457.99 358.50,457.90 359.00,457.65 359.50,457.46 360.00,457.44 360.50,457.50 361.00,457.47 361.50,457.28 362.00,457.08 362.50,456.97 363.00,456.82 363.50,456.32 364.00,455.16 364.50,453.28 365.00,450.80 365.50,447.88 366.00,444.75 366.50,441.79 367.00,439.75 367.50,439.55 368.00,441.85 368.50,446.67 369.00,453.26 369.50,459.90 370.00,465.26 370.50,469.43 371.00,471.92 371.50,472.49 372.00,471.29 372.50,468.89 373.00,466.09 373.50,463.55 374.00,461.54 374.50,460.00 375.00,458.82 375.50,458.01 376.00,457.64 376.50,457.65 377.00,457.81 377.50,457.87 378.00,457.78 378.50,457.69 379.00,457.72 379.50,457.80 380.00,457.73 380.50,457.42 381.00,457.01 381.50,456.73 382.00,456.69 382.50,456.79 383.00,456.93 383.50,457.11 384.00,457.46 384.50,457.98 385.00,458.47 385.50,458.69 386.00,458.54 386.50,458.21 387.00,457.94 387.50,457.83 388.00,457.75 388.50,457.56 389.00,457.31 389.50,457.18 390.00,457.26 390.50,457.43 391.00,457.47 391.50,457.31 392.00,457.09 392.50,457.03 393.00,457.18 393.50,457.42 394.00,457.58 394.50,457.67 395.00,457.79 395.50,457.99 396.00,458.15 396.50,458.12 397.00,457.90 397.50,457.69 398.00,457.68 398.50,457.85 399.00,458.00 399.50,457.95 400.00,457.77 400.50,457.64 401.00,457.64 401.50,457.69 402.00,457.61 402.50,457.37 403.00,457.15 403.50,457.09 404.00,457.11 404.50,456.90 405.00,456.17 405.50,454.74 406.00,452.53 406.50,449.35 407.00,444.93 407.50,439.27 408.00,432.98 408.50,427.31 409.00,423.85 409.50,423.97 410.00,428.43 410.50,437.16 411.00,449.21 411.50,462.09 412.00,473.27 412.50,481.84 413.00,486.54 413.50,487.17 414.00,484.60 414.50,480.14 415.00,474.97 415.50,469.94 416.00,465.58 416.50,462.23 417.00,460.04 417.50,458.87 418.00,458.32 418.50,457.99 419.00,457.75 419.50,457.65 420.00,457.75 420.50,457.93 421.00,457.99 421.50,457.82 422.00,457.57 422.50,457.42 423.00,457.44 423.50,457.46 424.00,457.34 424.50,457.09 425.00,456.90 425.50,456.91 426.00,457.06 426.50,457.19 427.00,457.25 427.50,457.39 428.00,457.70 428.50,458.13 429.00,458.41 429.50,458.37 430.00,458.06 430.50,457.77 431.00,457.66 431.50,457.69 432.00,457.70 432.50,457.60 433.00,457.53 433.50,457.60 434.00,457.79 434.50,457.88 435.00,457.72 435.50,457.36 436.00,457.02 436.50,456.87 437.00,456.87 437.50,456.90 438.00,456.95 438.50,457.16 439.00,457.59 439.50,458.12 440.00,458.48 440.50,458.50 441.00,458.30 441.50,458.11 442.00,458.05 442.50,458.03 443.00,457.88 443.50,457.58 444.00,457.33 444.50,457.26 445.00,457.37 445.50,457.43 446.00,457.30 446.50,456.97 447.00,456.51 447.50,455.77 448.00,454.35 448.50,451.79 449.00,447.88 449.50,442.76 450.00,436.94 450.50,431.15 451.00,426.45 451.50,424.16 452.00,425.65 452.50,431.72 453.00,442.03 453.50,454.99 454.00,466.83 454.50,476.59 455.00,483.27 455.50,486.30 456.00,485.82 456.50,482.52 457.00,477.55 457.50,472.18 458.00,467.46 458.50,463.87 459.00,461.37 459.50,459.65 460.00,458.53 460.50,457.94 461.00,457.83 461.50,457.95 462.00,458.02 462.50,457.90 463.00,457.71 463.50,457.63 464.00,457.67 464.50,457.69 465.00,457.55 465.50,457.32 466.00,457.19 466.50,457.28 467.00,457.48 467.50,457.58 468.00,457.47 468.50,457.29 469.00,457.20 469.50,457.23 470.00,457.27 470.50,457.22 471.00,457.18 471.50,457.32 472.00,457.66 472.50,458.03 473.00,458.18 473.50,458.07 474.00,457.88 474.50,457.83 475.00,457.95 475.50,458.05 476.00,457.98 476.50,457.80 477.00,457.66 477.50,457.65 478.00,457.64 478.50,457.44 479.00,457.07 479.50,456.70 480.00,456.58 480.50,456.73 481.00,457.01 481.50,457.29 482.00,457.58 482.50,457.96 483.00,458.39 483.50,458.67 484.00,458.61 484.50,458.27 485.00,457.88 485.50,457.66 486.00,457.62 486.50,457.58 487.00,457.43 487.50,457.27 488.00,457.25 488.50,457.38 489.00,457.43 489.50,457.12 490.00,456.31 490.50,454.99 491.00,453.16 491.50,450.72 492.00,447.62 492.50,444.22 493.00,441.34 493.50,440.04 494.00,441.11 494.50,444.76 495.00,450.54 495.50,457.52 496.00,463.54 496.50,468.58 497.00,471.78 497.50,472.69 498.00,471.52 498.50,469.04 499.00,466.19 499.50,463.59 500.00,461.47 500.50,459.80 501.00,458.58 501.50,457.89 502.00,457.70 502.50,457.79 503.00,457.88 503.50,457.82 504.00,457.72 504.50,457.72 505.00,457.83 505.50,457.88 506.00,457.73 506.50,457.46 507.00,457.28 507.50,457.30 508.00,457.45 508.50,457.53 509.00,457.48 509.50,457.44 510.00,457.56 510.50,457.80 511.00,457.98 511.50,457.94 512.00,457.74 512.50,457.58 513.00,457.58 513.50,457.63 514.00,457.56 514.50,457.37 515.00,457.22 515.50,457.27 516.00,457.51 516.50,457.72 517.00,457.76 517.50,457.70 518.00,457.69 518.50,457.81 519.00,457.93 519.50,457.86 520.00,457.62 520.50,457.37 521.00,457.31 521.50,457.42 522.00,457.50 522.50,457.46 523.00,457.38 523.50,457.43 524.00,457.66 524.50,457.91 525.00,457.97 525.50,457.83 526.00,457.66 526.50,457.63 527.00,457.68 527.50,457.66 528.00,457.48 528.50,457.26 529.00,457.21 529.50,457.38 530.00,457.61 530.50,457.70 531.00,457.66 531.50,457.64 532.00,457.75 532.50,457.92 533.00,457.95 533.50,457.77 534.00,457.50 534.50,457.37 535.00,457.41 535.50,457.50 536.00,457.47 536.50,457.35 537.00,457.33 537.50,457.51 538.00,457.78 538.50,457.93 539.00,457.87 539.50,457.73 540.00,457.67 540.50,457.73 541.00,457.75 541.50,457.61 542.00,457.35 542.50,457.21 543.00,457.29 543.50,457.49 544.00,457.63 544.50,457.61 545.00,457.57 545.50,457.66 546.00,457.87 546.50,457.99 547.00,457.89 547.50,457.65 548.00,457.46 548.50,457.44 549.00,457.51 549.50,457.50 550.00,457.36 550.50,457.27 551.00,457.37 551.50,457.63 552.00,457.85 552.50,457.88 553.00,457.76 553.50,457.70 554.00,457.76 554.50,457.83 555.00,457.74 555.50,457.49 556.00,457.27 556.50,457.25 557.00,457.40 557.50,457.55 558.00,457.56 558.50,457.51 559.00,457.56 559.50,457.76 560.00,457.97 560.50,457.97 561.00,457.78 561.50,457.57 562.00,457.50 562.50,457.55 563.00,457.55 563.50,457.42 564.00,457.26 564.50,457.26 565.00,457.48 565.50,457.73 566.00,457.83 566.50,457.77 567.00,457.70 567.50,457.75 568.00,457.86 568.50,457.85 569.00,457.65 569.50,457.38 570.00,457.26 570.50,457.35 571.00,457.49 571.50,457.52 572.00,457.46 572.50,457.46 573.00,457.63 573.50,457.88 574.00,457.99 574.50,457.88 575.00,457.67 575.50,457.57 576.00,457.60 576.50,457.62 577.00,457.51 577.50,457.30 578.00,457.21 578.50,457.34 579.00,457.59 579.50,457.76 580.00,457.75 580.50,457.68 581.00,457.72 581.50,457.86 582.00,457.93 582.50,457.79 583.00,457.52 583.50,457.33 584.00,457.34 584.50,457.46 585.00,457.50 585.50,457.43 586.00,457.37 586.50,457.49 587.00,457.75 587.50,457.95 588.00,457.93 588.50,457.76 589.00,457.64 589.50,457.65 590.00,457.69 590.50,457.61 591.00,457.40 591.50,457.22 592.00,457.25 592.50,457.46 593.00,457.66 593.50,457.70 594.00,457.64" fill="none" stroke="#2878E0" stroke-width="1.25" stroke-linejoin="round"/>
<polyline points="316.00,514.42 316.50,514.53 317.00,514.58 317.50,514.43 318.00,514.16 318.50,513.98 319.00,514.00 319.50,514.15 320.00,514.23 320.50,514.18 321.00,514.14 321.50,514.26 322.00,514.50 322.50,514.68 323.00,514.64 323.50,514.44 324.00,514.28 324.50,514.28 325.00,514.33 325.50,514.26 326.00,514.07 326.50,513.92 327.00,513.97 327.50,514.21 328.00,514.42 328.50,514.46 329.00,514.40 329.50,514.39 330.00,514.51 330.50,514.63 331.00,514.57 331.50,514.32 332.00,514.08 332.50,514.01 333.00,514.11 333.50,514.20 334.00,514.16 334.50,514.08 335.00,514.13 335.50,514.36 336.00,514.60 336.50,514.67 337.00,514.53 337.50,514.36 338.00,514.33 338.50,514.38 339.00,514.36 339.50,514.18 340.00,513.96 340.50,513.91 341.00,514.08 341.50,514.30 342.00,514.40 342.50,514.36 343.00,514.34 343.50,514.45 344.00,514.62 344.50,514.66 345.00,514.47 345.50,514.21 346.00,514.07 346.50,514.11 347.00,514.20 347.50,514.17 348.00,514.05 348.50,514.03 349.00,514.21 349.50,514.48 350.00,514.63 350.50,514.58 351.00,514.43 351.50,514.37 352.00,514.43 352.50,514.45 353.00,514.31 353.50,514.06 354.00,513.91 354.50,513.99 355.00,514.19 355.50,514.33 356.00,514.31 356.50,514.27 357.00,514.36 357.50,514.56 358.00,514.69 358.50,514.60 359.00,514.35 359.50,514.15 360.00,514.13 360.50,514.18 361.00,514.11 361.50,513.87 362.00,513.57 362.50,513.30 363.00,512.94 363.50,512.22 364.00,510.95 364.50,509.23 365.00,507.43 365.50,505.95 366.00,505.12 366.50,505.16 367.00,506.34 367.50,508.81 368.00,512.39 368.50,516.08 369.00,519.18 369.50,521.29 370.00,522.23 370.50,522.19 371.00,521.48 371.50,520.31 372.00,518.85 372.50,517.33 373.00,516.07 373.50,515.26 374.00,514.83 374.50,514.55 375.00,514.26 375.50,514.02 376.00,513.99 376.50,514.18 377.00,514.43 377.50,514.53 378.00,514.47 378.50,514.39 379.00,514.43 379.50,514.51 380.00,514.45 380.50,514.15 381.00,513.76 381.50,513.51 382.00,513.48 382.50,513.59 383.00,513.72 383.50,513.86 384.00,514.16 384.50,514.63 385.00,515.09 385.50,515.29 386.00,515.15 386.50,514.83 387.00,514.59 387.50,514.49 388.00,514.43 388.50,514.26 389.00,514.01 389.50,513.89 390.00,513.97 390.50,514.15 391.00,514.21 391.50,514.07 392.00,513.87 392.50,513.83 393.00,513.98 393.50,514.19 394.00,514.31 394.50,514.35 395.00,514.42 395.50,514.60 396.00,514.75 396.50,514.73 397.00,514.53 397.50,514.34 398.00,514.35 398.50,514.54 399.00,514.69 399.50,514.65 400.00,514.47 400.50,514.33 401.00,514.33 401.50,514.36 402.00,514.22 402.50,513.89 403.00,513.48 403.50,513.08 404.00,512.55 404.50,511.54 405.00,509.81 405.50,507.38 406.00,504.55 406.50,501.72 407.00,499.33 407.50,497.90 408.00,498.09 408.50,500.48 409.00,505.14 409.50,511.46 410.00,517.62 410.50,522.66 411.00,526.25 411.50,528.15 412.00,528.40 412.50,527.23 413.00,525.02 413.50,522.37 414.00,519.87 414.50,517.94 415.00,516.61 415.50,515.64 416.00,514.87 416.50,514.30 417.00,514.06 417.50,514.12 418.00,514.28 418.50,514.35 419.00,514.30 419.50,514.29 420.00,514.43 420.50,514.63 421.00,514.68 421.50,514.52 422.00,514.27 422.50,514.12 423.00,514.14 423.50,514.17 424.00,514.05 424.50,513.82 425.00,513.66 425.50,513.69 426.00,513.85 426.50,513.99 427.00,514.04 427.50,514.13 428.00,514.40 428.50,514.78 429.00,515.03 429.50,514.97 430.00,514.67 430.50,514.39 431.00,514.31 431.50,514.36 432.00,514.38 432.50,514.30 433.00,514.22 433.50,514.30 434.00,514.50 434.50,514.60 435.00,514.45 435.50,514.11 436.00,513.79 436.50,513.66 437.00,513.67 437.50,513.69 438.00,513.71 438.50,513.87 439.00,514.25 439.50,514.74 440.00,515.08 440.50,515.11 441.00,514.92 441.50,514.75 442.00,514.71 442.50,514.70 443.00,514.56 443.50,514.27 444.00,514.00 444.50,513.92 445.00,513.96 445.50,513.91 446.00,513.58 446.50,512.94 447.00,512.05 447.50,510.82 448.00,509.02 448.50,506.51 449.00,503.52 449.50,500.69 450.00,498.80 450.50,498.50 451.00,500.12 451.50,503.69 452.00,508.93 452.50,515.03 453.00,520.46 453.50,524.86 454.00,527.47 454.50,528.11 455.00,527.19 455.50,525.35 456.00,523.09 456.50,520.72 457.00,518.50 457.50,516.69 458.00,515.49 458.50,514.88 459.00,514.59 459.50,514.38 460.00,514.19 460.50,514.13 461.00,514.29 461.50,514.54 462.00,514.67 462.50,514.59 463.00,514.41 463.50,514.32 464.00,514.37 464.50,514.39 465.00,514.25 465.50,514.02 466.00,513.89 466.50,513.99 467.00,514.19 467.50,514.29 468.00,514.20 468.50,514.04 469.00,513.97 469.50,514.02 470.00,514.07 470.50,514.01 471.00,513.94 471.50,514.03 472.00,514.32 472.50,514.65 473.00,514.78 473.50,514.67 474.00,514.50 474.50,514.48 475.00,514.61 475.50,514.73 476.00,514.67 476.50,514.49 477.00,514.36 477.50,514.36 478.00,514.35 478.50,514.18 479.00,513.82 479.50,513.48 480.00,513.37 480.50,513.53 481.00,513.79 481.50,514.03 482.00,514.28 482.50,514.61 483.00,515.00 483.50,515.27 484.00,515.22 484.50,514.89 485.00,514.52 485.50,514.32 486.00,514.29 486.50,514.25 487.00,514.07 487.50,513.83 488.00,513.68 488.50,513.57 489.00,513.27 489.50,512.50 490.00,511.20 490.50,509.59 491.00,507.98 491.50,506.65 492.00,505.84 492.50,505.88 493.00,507.12 493.50,509.72 494.00,513.31 494.50,516.73 495.00,519.47 495.50,521.18 496.00,521.82 496.50,521.62 497.00,520.78 497.50,519.48 498.00,517.95 498.50,516.54 499.00,515.54 499.50,514.98 500.00,514.66 500.50,514.36 501.00,514.09 501.50,513.97 502.00,514.10 502.50,514.36 503.00,514.52 503.50,514.50 504.00,514.41 504.50,514.42 505.00,514.53 505.50,514.58 506.00,514.43 506.50,514.16 507.00,513.98 507.50,514.00 508.00,514.15 508.50,514.23 509.00,514.18 509.50,514.14 510.00,514.26 510.50,514.50 511.00,514.68 511.50,514.64 512.00,514.44 512.50,514.28 513.00,514.28 513.50,514.33 514.00,514.26 514.50,514.07 515.00,513.92 515.50,513.97 516.00,514.21 516.50,514.42 517.00,514.46 517.50,514.40 518.00,514.39 518.50,514.51 519.00,514.63 519.50,514.56 520.00,514.32 520.50,514.07 521.00,514.01 521.50,514.12 522.00,514.20 522.50,514.16 523.00,514.08 523.50,514.13 524.00,514.36 524.50,514.61 525.00,514.67 525.50,514.53 526.00,514.36 526.50,514.33 527.00,514.38 527.50,514.36 528.00,514.18 528.50,513.96 529.00,513.91 529.50,514.08 530.00,514.31 530.50,514.40 531.00,514.36 531.50,514.34 532.00,514.45 532.50,514.62 533.00,514.65 533.50,514.47 534.00,514.20 534.50,514.07 535.00,514.11 535.50,514.20 536.00,514.17 536.50,514.05 537.00,514.03 537.50,514.21 538.00,514.48 538.50,514.63 539.00,514.57 539.50,514.43 540.00,514.37 540.50,514.43 541.00,514.45 541.50,514.31 542.00,514.05 542.50,513.91 543.00,513.99 543.50,514.19 544.00,514.33 544.50,514.31 545.00,514.27 545.50,514.36 546.00,514.57 546.50,514.69 547.00,514.59 547.50,514.35 548.00,514.16 548.50,514.14 549.00,514.21 549.50,514.20 550.00,514.06 550.50,513.97 551.00,514.07 551.50,514.33 552.00,514.55 552.50,514.58 553.00,514.46 553.50,514.40 554.00,514.46 554.50,514.53 555.00,514.44 555.50,514.19 556.00,513.97 556.50,513.95 557.00,514.10 557.50,514.25 558.00,514.26 558.50,514.21 559.00,514.26 559.50,514.46 560.00,514.67 560.50,514.67 561.00,514.48 561.50,514.27 562.00,514.20 562.50,514.25 563.00,514.25 563.50,514.12 564.00,513.96 564.50,513.96 565.00,514.18 565.50,514.43 566.00,514.53 566.50,514.47 567.00,514.40 567.50,514.45 568.00,514.56 568.50,514.55 569.00,514.35 569.50,514.08 570.00,513.96 570.50,514.05 571.00,514.19 571.50,514.22 572.00,514.16 572.50,514.16 573.00,514.33 573.50,514.58 574.00,514.69 574.50,514.58 575.00,514.37 575.50,514.27 576.00,514.30 576.50,514.32 577.00,514.21 577.50,514.00 578.00,513.91 578.50,514.04 579.00,514.29 579.50,514.46 580.00,514.45 580.50,514.38 581.00,514.42 581.50,514.56 582.00,514.63 582.50,514.49 583.00,514.22 583.50,514.03 584.00,514.04 584.50,514.16 585.00,514.20 585.50,514.13 586.00,514.07 586.50,514.19 587.00,514.45 587.50,514.65 588.00,514.63 588.50,514.46 589.00,514.34 589.50,514.35 590.00,514.39 590.50,514.31 591.00,514.10 591.50,513.92 592.00,513.95 592.50,514.16 593.00,514.36 593.50,514.40 594.00,514.34" fill="none" stroke="#F03030" stroke-width="1.15" stroke-linejoin="round"/>
<polyline points="316.00,569.70 316.50,569.78 317.00,569.82 317.50,569.71 318.00,569.49 318.50,569.34 319.00,569.36 319.50,569.48 320.00,569.54 320.50,569.51 321.00,569.47 321.50,569.56 322.00,569.76 322.50,569.90 323.00,569.87 323.50,569.71 324.00,569.59 324.50,569.58 325.00,569.62 325.50,569.57 326.00,569.42 326.50,569.29 327.00,569.34 327.50,569.53 328.00,569.70 328.50,569.73 329.00,569.68 329.50,569.67 330.00,569.77 330.50,569.86 331.00,569.81 331.50,569.62 332.00,569.42 332.50,569.37 333.00,569.45 333.50,569.52 334.00,569.49 334.50,569.42 335.00,569.46 335.50,569.65 336.00,569.84 336.50,569.89 337.00,569.78 337.50,569.65 338.00,569.62 338.50,569.67 339.00,569.65 339.50,569.50 340.00,569.33 340.50,569.29 341.00,569.42 341.50,569.60 342.00,569.68 342.50,569.65 343.00,569.63 343.50,569.72 344.00,569.86 344.50,569.88 345.00,569.74 345.50,569.53 346.00,569.42 346.50,569.45 347.00,569.52 347.50,569.49 348.00,569.40 348.50,569.38 349.00,569.53 349.50,569.74 350.00,569.87 350.50,569.82 351.00,569.70 351.50,569.66 352.00,569.70 352.50,569.72 353.00,569.61 353.50,569.41 354.00,569.29 354.50,569.35 355.00,569.51 355.50,569.62 356.00,569.61 356.50,569.58 357.00,569.65 357.50,569.81 358.00,569.91 358.50,569.84 359.00,569.64 359.50,569.49 360.00,569.47 360.50,569.53 361.00,569.52 361.50,569.41 362.00,569.33 362.50,569.41 363.00,569.62 363.50,569.80 364.00,569.82 364.50,569.73 365.00,569.68 365.50,569.72 366.00,569.78 366.50,569.71 367.00,569.51 367.50,569.34 368.00,569.32 368.50,569.44 369.00,569.56 369.50,569.57 370.00,569.53 370.50,569.57 371.00,569.73 371.50,569.89 372.00,569.90 372.50,569.75 373.00,569.57 373.50,569.52 374.00,569.56 374.50,569.56 375.00,569.46 375.50,569.33 376.00,569.33 376.50,569.50 377.00,569.70 377.50,569.79 378.00,569.74 378.50,569.68 379.00,569.72 379.50,569.81 380.00,569.80 380.50,569.64 381.00,569.42 381.50,569.33 382.00,569.40 382.50,569.51 383.00,569.54 383.50,569.49 384.00,569.49 384.50,569.63 385.00,569.82 385.50,569.91 386.00,569.83 386.50,569.66 387.00,569.57 387.50,569.60 388.00,569.62 388.50,569.53 389.00,569.36 389.50,569.29 390.00,569.39 390.50,569.59 391.00,569.73 391.50,569.72 392.00,569.66 392.50,569.69 393.00,569.81 393.50,569.86 394.00,569.76 394.50,569.54 395.00,569.38 395.50,569.39 396.00,569.48 396.50,569.52 397.00,569.46 397.50,569.42 398.00,569.51 398.50,569.72 399.00,569.88 399.50,569.87 400.00,569.73 400.50,569.63 401.00,569.64 401.50,569.67 402.00,569.61 402.50,569.44 403.00,569.29 403.50,569.32 404.00,569.49 404.50,569.65 405.00,569.68 405.50,569.63 406.00,569.65 406.50,569.77 407.00,569.89 407.50,569.85 408.00,569.66 408.50,569.47 409.00,569.41 409.50,569.48 410.00,569.52 410.50,569.46 411.00,569.38 411.50,569.41 412.00,569.60 412.50,569.80 413.00,569.87 413.50,569.78 414.00,569.67 414.50,569.67 415.00,569.72 415.50,569.70 416.00,569.54 416.50,569.35 417.00,569.29 417.50,569.40 418.00,569.56 418.50,569.63 419.00,569.59 419.50,569.59 420.00,569.70 420.50,569.86 421.00,569.91 421.50,569.78 422.00,569.58 422.50,569.47 423.00,569.49 423.50,569.54 424.00,569.49 424.50,569.37 425.00,569.34 425.50,569.48 426.00,569.70 426.50,569.83 427.00,569.80 427.50,569.70 428.00,569.68 428.50,569.75 429.00,569.78 429.50,569.66 430.00,569.44 430.50,569.31 431.00,569.35 431.50,569.49 432.00,569.58 432.50,569.56 433.00,569.53 433.50,569.61 434.00,569.79 434.50,569.92 435.00,569.86 435.50,569.68 436.00,569.54 436.50,569.53 437.00,569.57 437.50,569.54 438.00,569.41 438.50,569.31 439.00,569.37 439.50,569.57 440.00,569.75 440.50,569.78 441.00,569.71 441.50,569.68 442.00,569.75 442.50,569.83 443.00,569.76 443.50,569.56 444.00,569.37 444.50,569.34 445.00,569.44 445.50,569.54 446.00,569.53 446.50,569.47 447.00,569.52 447.50,569.69 448.00,569.87 448.50,569.90 449.00,569.77 449.50,569.62 450.00,569.57 450.50,569.61 451.00,569.60 451.50,569.47 452.00,569.32 452.50,569.30 453.00,569.46 453.50,569.65 454.00,569.74 454.50,569.70 455.00,569.66 455.50,569.73 456.00,569.84 456.50,569.85 457.00,569.69 457.50,569.47 458.00,569.37 458.50,569.42 459.00,569.51 459.50,569.51 460.00,569.44 460.50,569.43 461.00,569.58 461.50,569.79 462.00,569.90 462.50,569.83 463.00,569.69 463.50,569.62 464.00,569.65 464.50,569.67 465.00,569.56 465.50,569.38 466.00,569.28 466.50,569.36 467.00,569.55 467.50,569.67 468.00,569.66 468.50,569.63 469.00,569.68 469.50,569.82 470.00,569.89 470.50,569.80 471.00,569.59 471.50,569.43 472.00,569.43 472.50,569.50 473.00,569.51 473.50,569.43 474.00,569.37 474.50,569.46 475.00,569.68 475.50,569.85 476.00,569.85 476.50,569.74 477.00,569.66 477.50,569.68 478.00,569.73 478.50,569.66 479.00,569.47 479.50,569.31 480.00,569.31 480.50,569.46 481.00,569.60 481.50,569.62 482.00,569.58 482.50,569.61 483.00,569.76 483.50,569.90 484.00,569.88 484.50,569.71 485.00,569.52 485.50,569.46 486.00,569.51 486.50,569.54 487.00,569.45 487.50,569.35 488.00,569.37 488.50,569.55 489.00,569.76 489.50,569.83 490.00,569.76 490.50,569.68 491.00,569.70 491.50,569.77 492.00,569.75 492.50,569.59 493.00,569.38 493.50,569.30 494.00,569.39 494.50,569.53 495.00,569.58 495.50,569.54 496.00,569.54 496.50,569.67 497.00,569.85 497.50,569.92 498.00,569.81 498.50,569.62 499.00,569.52 499.50,569.54 500.00,569.57 500.50,569.50 501.00,569.36 501.50,569.31 502.00,569.43 502.50,569.64 503.00,569.78 503.50,569.76 504.00,569.69 504.50,569.70 505.00,569.78 505.50,569.82 506.00,569.71 506.50,569.49 507.00,569.34 507.50,569.36 508.00,569.48 508.50,569.54 509.00,569.51 509.50,569.47 510.00,569.57 510.50,569.76 511.00,569.91 511.50,569.87 512.00,569.71 512.50,569.59 513.00,569.58 513.50,569.62 514.00,569.57 514.50,569.41 515.00,569.29 515.50,569.34 516.00,569.53 516.50,569.70 517.00,569.73 517.50,569.68 518.00,569.67 518.50,569.77 519.00,569.86 519.50,569.81 520.00,569.61 520.50,569.42 521.00,569.37 521.50,569.45 522.00,569.52 522.50,569.49 523.00,569.42 523.50,569.47 524.00,569.65 524.50,569.84 525.00,569.89 525.50,569.78 526.00,569.65 526.50,569.62 527.00,569.67 527.50,569.65 528.00,569.50 528.50,569.33 529.00,569.29 529.50,569.42 530.00,569.61 530.50,569.68 531.00,569.65 531.50,569.63 532.00,569.72 532.50,569.86 533.00,569.88 533.50,569.74 534.00,569.52 534.50,569.41 535.00,569.45 535.50,569.52 536.00,569.49 536.50,569.40 537.00,569.38 537.50,569.53 538.00,569.75 538.50,569.87 539.00,569.82 539.50,569.70 540.00,569.66 540.50,569.70 541.00,569.72 541.50,569.60 542.00,569.40 542.50,569.29 543.00,569.35 543.50,569.52 544.00,569.62 544.50,569.61 545.00,569.58 545.50,569.65 546.00,569.81 546.50,569.91 547.00,569.84 547.50,569.64 548.00,569.49 548.50,569.48 549.00,569.53 549.50,569.52 550.00,569.41 550.50,569.33 551.00,569.41 551.50,569.62 552.00,569.80 552.50,569.82 553.00,569.73 553.50,569.68 554.00,569.72 554.50,569.78 555.00,569.71 555.50,569.51 556.00,569.33 556.50,569.32 557.00,569.44 557.50,569.56 558.00,569.57 558.50,569.53 559.00,569.57 559.50,569.73 560.00,569.89 560.50,569.90 561.00,569.74 561.50,569.57 562.00,569.52 562.50,569.56 563.00,569.56 563.50,569.45 564.00,569.33 564.50,569.33 565.00,569.50 565.50,569.71 566.00,569.79 566.50,569.74 567.00,569.68 567.50,569.72 568.00,569.81 568.50,569.80 569.00,569.64 569.50,569.42 570.00,569.33 570.50,569.40 571.00,569.51 571.50,569.54 572.00,569.49 572.50,569.49 573.00,569.63 573.50,569.83 574.00,569.91 574.50,569.82 575.00,569.66 575.50,569.57 576.00,569.60 576.50,569.62 577.00,569.52 577.50,569.36 578.00,569.29 578.50,569.39 579.00,569.60 579.50,569.73 580.00,569.72 580.50,569.66 581.00,569.69 581.50,569.81 582.00,569.86 582.50,569.76 583.00,569.54 583.50,569.38 584.00,569.39 584.50,569.48 585.00,569.52 585.50,569.46 586.00,569.42 586.50,569.52 587.00,569.72 587.50,569.88 588.00,569.87 588.50,569.73 589.00,569.63 589.50,569.64 590.00,569.67 590.50,569.61 591.00,569.44 591.50,569.29 592.00,569.32 592.50,569.49 593.00,569.65 593.50,569.68 594.00,569.63" fill="none" stroke="#333" stroke-width="1.0" stroke-linejoin="round"/>
<text x="333.60" y="411.10" font-size="9.3" text-anchor="start" fill="#111">Magnetic Field (G)</text>
<text x="334.00" y="426.46" font-size="12.0" text-anchor="start" fill="#111" font-weight="bold">(h)</text>
<text transform="translate(322.6,429.2) rotate(-90) scale(0.81,1)" x="0" y="3.2" font-size="9.3" text-anchor="middle" fill="#111">Intensity (a.u.)</text>
<text x="500.8" y="451.6" font-size="8.3" fill="#2B2BE8">Vis-Fe<tspan font-size="5.5" dy="1.5">3</tspan><tspan dy="-1.5">O</tspan><tspan font-size="5.5" dy="1.5">4</tspan><tspan dy="-1.5">- ZnIn</tspan><tspan font-size="5.5" dy="1.5">2</tspan><tspan dy="-1.5">S</tspan><tspan font-size="5.5" dy="1.5">4</tspan><tspan dy="-1.5">/PMS</tspan></text>
<text x="509.8" y="508.2" font-size="8.3" fill="#F03030">Fe<tspan font-size="5.5" dy="1.5">3</tspan><tspan dy="-1.5">O</tspan><tspan font-size="5.5" dy="1.5">4</tspan><tspan dy="-1.5">- ZnIn</tspan><tspan font-size="5.5" dy="1.5">2</tspan><tspan dy="-1.5">S</tspan><tspan font-size="5.5" dy="1.5">4</tspan><tspan dy="-1.5">/PMS</tspan></text>
<text x="557.60" y="560.75" font-size="8.6" text-anchor="start" fill="#111">PMS</text>
<circle cx="367.30" cy="433.50" r="2.1" fill="#000"/>
<line x1="369.10" y1="433.50" x2="371.30" y2="433.50" stroke="#000" stroke-width="0.8"/>
<line x1="368.57" y1="434.77" x2="370.13" y2="436.33" stroke="#000" stroke-width="0.8"/>
<line x1="367.30" y1="435.30" x2="367.30" y2="437.50" stroke="#000" stroke-width="0.8"/>
<line x1="366.03" y1="434.77" x2="364.47" y2="436.33" stroke="#000" stroke-width="0.8"/>
<line x1="365.50" y1="433.50" x2="363.30" y2="433.50" stroke="#000" stroke-width="0.8"/>
<line x1="366.03" y1="432.23" x2="364.47" y2="430.67" stroke="#000" stroke-width="0.8"/>
<line x1="367.30" y1="431.70" x2="367.30" y2="429.50" stroke="#000" stroke-width="0.8"/>
<line x1="368.57" y1="432.23" x2="370.13" y2="430.67" stroke="#000" stroke-width="0.8"/>
<circle cx="409.50" cy="417.00" r="2.1" fill="#000"/>
<line x1="411.30" y1="417.00" x2="413.50" y2="417.00" stroke="#000" stroke-width="0.8"/>
<line x1="410.77" y1="418.27" x2="412.33" y2="419.83" stroke="#000" stroke-width="0.8"/>
<line x1="409.50" y1="418.80" x2="409.50" y2="421.00" stroke="#000" stroke-width="0.8"/>
<line x1="408.23" y1="418.27" x2="406.67" y2="419.83" stroke="#000" stroke-width="0.8"/>
<line x1="407.70" y1="417.00" x2="405.50" y2="417.00" stroke="#000" stroke-width="0.8"/>
<line x1="408.23" y1="415.73" x2="406.67" y2="414.17" stroke="#000" stroke-width="0.8"/>
<line x1="409.50" y1="415.20" x2="409.50" y2="413.00" stroke="#000" stroke-width="0.8"/>
<line x1="410.77" y1="415.73" x2="412.33" y2="414.17" stroke="#000" stroke-width="0.8"/>
<circle cx="451.50" cy="417.00" r="2.1" fill="#000"/>
<line x1="453.30" y1="417.00" x2="455.50" y2="417.00" stroke="#000" stroke-width="0.8"/>
<line x1="452.77" y1="418.27" x2="454.33" y2="419.83" stroke="#000" stroke-width="0.8"/>
<line x1="451.50" y1="418.80" x2="451.50" y2="421.00" stroke="#000" stroke-width="0.8"/>
<line x1="450.23" y1="418.27" x2="448.67" y2="419.83" stroke="#000" stroke-width="0.8"/>
<line x1="449.70" y1="417.00" x2="447.50" y2="417.00" stroke="#000" stroke-width="0.8"/>
<line x1="450.23" y1="415.73" x2="448.67" y2="414.17" stroke="#000" stroke-width="0.8"/>
<line x1="451.50" y1="415.20" x2="451.50" y2="413.00" stroke="#000" stroke-width="0.8"/>
<line x1="452.77" y1="415.73" x2="454.33" y2="414.17" stroke="#000" stroke-width="0.8"/>
<circle cx="493.90" cy="435.60" r="2.1" fill="#000"/>
<line x1="495.70" y1="435.60" x2="497.90" y2="435.60" stroke="#000" stroke-width="0.8"/>
<line x1="495.17" y1="436.87" x2="496.73" y2="438.43" stroke="#000" stroke-width="0.8"/>
<line x1="493.90" y1="437.40" x2="493.90" y2="439.60" stroke="#000" stroke-width="0.8"/>
<line x1="492.63" y1="436.87" x2="491.07" y2="438.43" stroke="#000" stroke-width="0.8"/>
<line x1="492.10" y1="435.60" x2="489.90" y2="435.60" stroke="#000" stroke-width="0.8"/>
<line x1="492.63" y1="434.33" x2="491.07" y2="432.77" stroke="#000" stroke-width="0.8"/>
<line x1="493.90" y1="433.80" x2="493.90" y2="431.60" stroke="#000" stroke-width="0.8"/>
<line x1="495.17" y1="434.33" x2="496.73" y2="432.77" stroke="#000" stroke-width="0.8"/>
<polygon points="383.20,447.90 384.11,450.34 386.72,450.46 384.68,452.08 385.37,454.59 383.20,453.15 381.03,454.59 381.72,452.08 379.68,450.46 382.29,450.34" fill="#7a7a7a" stroke="#333" stroke-width="0.7" stroke-linejoin="round"/>
<polygon points="393.60,447.90 394.51,450.34 397.12,450.46 395.08,452.08 395.77,454.59 393.60,453.15 391.43,454.59 392.12,452.08 390.08,450.46 392.69,450.34" fill="#7a7a7a" stroke="#333" stroke-width="0.7" stroke-linejoin="round"/>
<polygon points="427.40,448.00 428.31,450.44 430.92,450.56 428.88,452.18 429.57,454.69 427.40,453.25 425.23,454.69 425.92,452.18 423.88,450.56 426.49,450.44" fill="#7a7a7a" stroke="#333" stroke-width="0.7" stroke-linejoin="round"/>
<polygon points="438.00,448.00 438.91,450.44 441.52,450.56 439.48,452.18 440.17,454.69 438.00,453.25 435.83,454.69 436.52,452.18 434.48,450.56 437.09,450.44" fill="#7a7a7a" stroke="#333" stroke-width="0.7" stroke-linejoin="round"/>
<polygon points="470.80,449.20 471.71,451.64 474.32,451.76 472.28,453.38 472.97,455.89 470.80,454.45 468.63,455.89 469.32,453.38 467.28,451.76 469.89,451.64" fill="#7a7a7a" stroke="#333" stroke-width="0.7" stroke-linejoin="round"/>
<polygon points="481.30,449.20 482.21,451.64 484.82,451.76 482.78,453.38 483.47,455.89 481.30,454.45 479.13,455.89 479.82,453.38 477.78,451.76 480.39,451.64" fill="#7a7a7a" stroke="#333" stroke-width="0.7" stroke-linejoin="round"/>
<circle cx="355.50" cy="542.60" r="2.2" fill="#000"/>
<line x1="357.40" y1="542.60" x2="359.80" y2="542.60" stroke="#000" stroke-width="0.8"/>
<line x1="356.84" y1="543.94" x2="358.54" y2="545.64" stroke="#000" stroke-width="0.8"/>
<line x1="355.50" y1="544.50" x2="355.50" y2="546.90" stroke="#000" stroke-width="0.8"/>
<line x1="354.16" y1="543.94" x2="352.46" y2="545.64" stroke="#000" stroke-width="0.8"/>
<line x1="353.60" y1="542.60" x2="351.20" y2="542.60" stroke="#000" stroke-width="0.8"/>
<line x1="354.16" y1="541.26" x2="352.46" y2="539.56" stroke="#000" stroke-width="0.8"/>
<line x1="355.50" y1="540.70" x2="355.50" y2="538.30" stroke="#000" stroke-width="0.8"/>
<line x1="356.84" y1="541.26" x2="358.54" y2="539.56" stroke="#000" stroke-width="0.8"/>
<polygon points="355.00,550.20 355.94,552.71 358.61,552.83 356.52,554.49 357.23,557.07 355.00,555.60 352.77,557.07 353.48,554.49 351.39,552.83 354.06,552.71" fill="#d0d0d0" stroke="#333" stroke-width="0.7" stroke-linejoin="round"/>
<text x="367.9" y="546.2" font-size="10" fill="#111">DMPO- <tspan dy="-3" font-size="7">&#8226;</tspan><tspan dy="3">OH</tspan></text>
<text x="367.9" y="557.5" font-size="10" fill="#111">DMPO- SO<tspan font-size="6.5" dy="1.5">4</tspan><tspan dy="-1.5"> &#8226;</tspan><tspan font-size="6.5" dy="-3">&#8211;</tspan></text>
</svg></div></body></html>
